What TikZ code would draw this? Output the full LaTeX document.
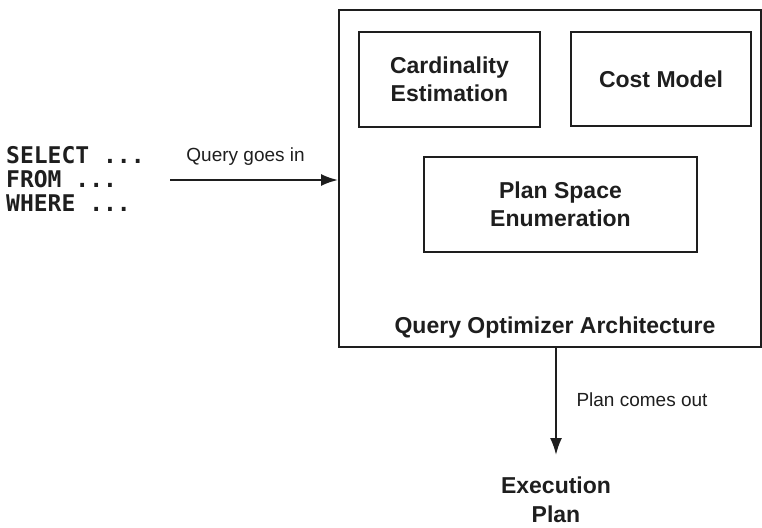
\documentclass[tikz,border=0pt]{standalone}
\usepackage{fontspec}
\setmainfont{Liberation Sans}
\setmonofont{DejaVu Sans Mono}
\usetikzlibrary{arrows.meta,calc,positioning}
\definecolor{ink}{RGB}{30,30,30}
\tikzset{%
	outerbox/.style = {draw=ink, rectangle, line width=2pt, minimum width=422pt, minimum height=337pt},
	part/.style     = {draw=ink, rectangle, line width=2pt, align=center, text=ink, font=\fontsize{23}{28}\selectfont\bfseries},
	label/.style    = {text=ink, font=\fontsize{19}{23}\selectfont},
	arrow/.style    = {draw=ink, line width=2pt,-{Latex[length=17pt,width=12pt]}},
}
\begin{document}
\begin{tikzpicture}[x=1pt,y=-1pt]
		\useasboundingbox (0,0) rectangle (762,527);
		\node[outerbox] (opt) at (550,178.5) {};
		\node[part, minimum width=181pt, minimum height=95pt] (card) at (449.5,79.5) {Cardinality\\Estimation};
		\node[part, minimum width=180pt, minimum height=94pt] (cost) at (661,79) {Cost Model};
		\node[part, minimum width=273pt, minimum height=95pt] (enum) at (560.5,204.5) {Plan Space\\Enumeration};
		\node[text=ink, font=\fontsize{23}{28}\selectfont\bfseries] (title) at (555,328) {Query Optimizer Architecture};
		
		\node[anchor=west, align=left, inner sep=0pt, text=ink, font=\fontsize{23}{24}\selectfont\ttfamily\bfseries] (sql) at (6,179) {SELECT ...\\FROM ...\\WHERE ...};
		\coordinate (qin) at (170,180);
		\draw[arrow] (qin) -- (qin -| opt.west) node[label, pos=0.45, above=10pt] {Query goes in};
		
		\node[align=center, text=ink, font=\fontsize{23}{29}\selectfont\bfseries] (plan) at (556,500) {Execution\\Plan};
		\coordinate (pout) at (556,347);
		\draw[arrow] (pout) -- (pout |- 0,455);
		\node[label] (comes) at (642,400) {Plan comes out};
		
	\end{tikzpicture}
\end{document}
